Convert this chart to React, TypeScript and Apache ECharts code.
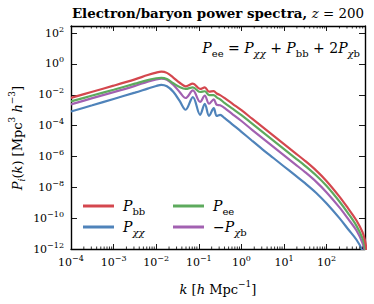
import React, { useEffect, useRef } from 'react';
import * as echarts from 'echarts';

// log10 of k [h/Mpc]
const logK = [-4.0, -3.5, -3.0, -2.5, -2.2, -2.0, -1.88, -1.75, -1.6, -1.45, -1.31, -1.14, -0.97, -0.86, -0.76, -0.65, -0.58, -0.5, -0.4, -0.2, 0.0, 0.25, 0.5, 0.75, 1.0, 1.25, 1.5, 1.75, 2.0, 2.3, 2.5, 2.7, 2.84, 2.9, 2.95];
// log10 of P(k)
const logPbb = [-2.2, -1.8, -1.41, -1.0, -0.72, -0.56, -0.5, -0.58, -0.88, -1.22, -1.45, -1.28, -1.62, -1.52, -1.8, -1.76, -1.92, -2.02, -2.2, -2.6, -3.0, -3.55, -4.1, -4.65, -5.2, -5.75, -6.3, -6.9, -7.6, -8.6, -9.35, -10.15, -10.9, -11.45, -12.3];
const logPxx = [-3.08, -2.68, -2.27, -1.86, -1.6, -1.43, -1.36, -1.45, -1.8, -2.4, -2.97, -2.15, -3.3, -2.58, -3.37, -2.87, -3.37, -3.3, -3.5, -3.95, -4.4, -4.98, -5.55, -6.1, -6.65, -7.2, -7.75, -8.35, -9.05, -10.0, -10.7, -11.4, -12.1, -12.7, -13.3];
const logPee = [-2.43, -2.05, -1.67, -1.28, -1.05, -0.93, -0.9, -0.98, -1.25, -1.5, -1.62, -1.52, -1.82, -1.77, -2.02, -2.02, -2.17, -2.3, -2.52, -2.92, -3.32, -3.87, -4.42, -4.97, -5.52, -6.07, -6.62, -7.22, -7.92, -8.92, -9.67, -10.5, -11.3, -11.9, -12.8];
const logPxb = [-2.62, -2.22, -1.83, -1.42, -1.15, -1.0, -0.95, -1.02, -1.35, -1.82, -2.21, -1.72, -2.46, -2.05, -2.58, -2.3, -2.65, -2.68, -2.85, -3.28, -3.7, -4.27, -4.83, -5.38, -5.93, -6.48, -7.03, -7.63, -8.33, -9.3, -10.03, -10.8, -11.6, -12.2, -12.95];

const X_MIN = -4;
const X_MAX = 2.9;
const Y_MIN = -12;
const Y_MAX = 2.46;

const COLORS = { bb: '#d4474e', xx: '#4f83ba', ee: '#5daa5d', xb: '#a261b1' };
const FONT = 'DejaVu Serif';

const minorTicks: number[][] = [];
for (let n = -4; n <= 2; n++) {
  for (let m = 2; m <= 9; m++) {
    const v = n + Math.log10(m);
    if (v < X_MAX) minorTicks.push([v, Y_MIN]);
  }
}

const tickRich = {
  a: { fontFamily: FONT, fontSize: 11, lineHeight: 16, color: '#000', verticalAlign: 'middle' },
  e: { fontFamily: FONT, fontSize: 8, lineHeight: 8, color: '#000', verticalAlign: 'top' },
};
const mk_rich = (size: number) => {
  const sub = Math.round(size * 0.7);
  const lh = size + 6;
  return {
    i: { fontFamily: FONT, fontStyle: 'italic', fontSize: size, lineHeight: lh, color: '#000', verticalAlign: 'middle' },
    r: { fontFamily: FONT, fontSize: size, lineHeight: lh, color: '#000', verticalAlign: 'middle' },
    s: { fontFamily: FONT, fontSize: sub, lineHeight: sub, color: '#000', verticalAlign: 'bottom' },
    si: { fontFamily: FONT, fontStyle: 'italic', fontSize: sub, lineHeight: sub, color: '#000', verticalAlign: 'bottom' },
    u: { fontFamily: FONT, fontSize: sub, lineHeight: sub, color: '#000', verticalAlign: 'top' },
    b: { fontFamily: FONT, fontWeight: 'bold', fontSize: size, lineHeight: lh, color: '#000', verticalAlign: 'middle' },
  };
};
const mathRich = mk_rich(14);
const axisRich = mk_rich(13);
const titleRich = mk_rich(13.4);

const fmtPow = (v: number) => {
  const r = Math.round(v);
  if (Math.abs(v - r) > 1e-6) return '';
  const e = r < 0 ? '\u2212' + Math.abs(r) : String(r);
  return `{a|10}{e|${e}}`;
};

const axisLineStyle = { color: '#000', width: 1.4 };
const tickStyle = { color: '#000', width: 0.9 };

export default function App() {
  const ref = useRef<HTMLDivElement>(null);
  useEffect(() => {
    if (!ref.current) return;
    const chart = echarts.init(ref.current, null, { renderer: 'svg' });
    const mk = (name: string, ys: number[], color: string, z: number) => ({
      name,
      type: 'line',
      data: logK.map((x, i) => [x, ys[i]]),
      smooth: 0.35,
      showSymbol: false,
      symbol: 'none',
      clip: true,
      z,
      color,
      lineStyle: { color, width: 2.2 },
      itemStyle: { color },
    });
    const legendBase = {
      orient: 'horizontal',
      padding: 0,
      itemWidth: 31,
      itemHeight: 3,
      icon: 'rect',
      selectedMode: false,
      textStyle: { rich: mathRich, padding: [0, 0, 0, 4] },
    };
    chart.setOption({
      animation: false,
      grid: { left: 71, right: 9, top: 26, bottom: 55, containLabel: false, outerBoundsMode: 'none' },
      xAxis: [
        {
          type: 'value', min: X_MIN, max: X_MAX, interval: 1, position: 'bottom',
          axisLine: { onZero: false, lineStyle: axisLineStyle },
          axisTick: { inside: true, length: 5, lineStyle: tickStyle },
          axisLabel: { formatter: fmtPow, rich: tickRich, margin: 5, showMaxLabel: false },
          splitLine: { show: false },
        },
        {
          type: 'value', min: X_MIN, max: X_MAX, interval: 1, position: 'top',
          axisLine: { onZero: false, lineStyle: axisLineStyle },
          axisTick: { inside: true, length: 5, lineStyle: tickStyle },
          axisLabel: { show: false },
          splitLine: { show: false },
        },
      ],
      yAxis: [
        {
          type: 'value', min: Y_MIN, max: Y_MAX, interval: 2, position: 'left',
          axisLine: { onZero: false, lineStyle: axisLineStyle },
          axisTick: { inside: true, length: 6, lineStyle: tickStyle },
          axisLabel: { formatter: fmtPow, rich: tickRich, margin: 7, showMaxLabel: false },
          splitLine: { show: false },
        },
        {
          type: 'value', min: Y_MIN, max: Y_MAX, interval: 2, position: 'right',
          axisLine: { onZero: false, lineStyle: axisLineStyle },
          axisTick: { inside: true, length: 6, lineStyle: tickStyle },
          axisLabel: { show: false },
          splitLine: { show: false },
        },
      ],
      legend: [
        { ...legendBase, data: ['Pbb'], left: 83, top: 199, formatter: '{i|P}{s|bb}' },
        { ...legendBase, data: ['Pxx'], left: 83, top: 220, formatter: '{i|P}{si|χχ}' },
        { ...legendBase, data: ['Pee'], left: 173, top: 199, formatter: '{i|P}{s|ee}' },
        { ...legendBase, data: ['Pxb'], left: 173, top: 220, formatter: '{r|\u2212}{i|P}{si|χ}{s|b}' },
      ],
      series: [
        mk('Pxx', logPxx, COLORS.xx, 2),
        mk('Pxb', logPxb, COLORS.xb, 3),
        mk('Pee', logPee, COLORS.ee, 4),
        mk('Pbb', logPbb, COLORS.bb, 5),
        {
          type: 'custom',
          silent: true,
          clip: false,
          z: 10,
          data: minorTicks,
          renderItem: (_p: any, api: any) => {
            const x = api.value(0);
            const b = api.coord([x, Y_MIN]);
            const t = api.coord([x, Y_MAX]);
            const st = { stroke: '#000', lineWidth: 0.8 };
            return {
              type: 'group',
              children: [
                { type: 'line', shape: { x1: b[0], y1: b[1], x2: b[0], y2: b[1] - 2.5 }, style: st },
                { type: 'line', shape: { x1: t[0], y1: t[1], x2: t[0], y2: t[1] + 2.5 }, style: st },
              ],
            };
          },
        },
      ],
      graphic: [
        {
          type: 'text', x: 218, y: 13,
          style: { text: '{b|Electron/baryon power spectra, }{i|z}{r| = 200}', rich: titleRich, align: 'center', verticalAlign: 'middle' },
        },
        {
          type: 'text', x: 360, y: 48,
          style: { text: '{i|P}{s|ee}{r| = }{i|P}{si|χχ}{r| + }{i|P}{s|bb}{r| + 2}{i|P}{si|χ}{s|b}', rich: mathRich, align: 'right', verticalAlign: 'middle' },
        },
        {
          type: 'text', x: 17, y: 138, rotation: Math.PI / 2,
          style: { text: '{i|P}{si|i}{r|(}{i|k}{r|) [Mpc}{u|3}{r| }{i|h}{u|\u22123}{r|]}', rich: axisRich, align: 'center', verticalAlign: 'middle' },
        },
        {
          type: 'text', x: 218, y: 289,
          style: { text: '{i|k}{r| [}{i|h}{r| Mpc}{u|\u22121}{r|]}', rich: axisRich, align: 'center', verticalAlign: 'middle' },
        },
      ],
    });
    return () => chart.dispose();
  }, []);
  return <div ref={ref} style={{ width: 374, height: 304, position: 'absolute', left: 0, top: 0 }} />;
}
